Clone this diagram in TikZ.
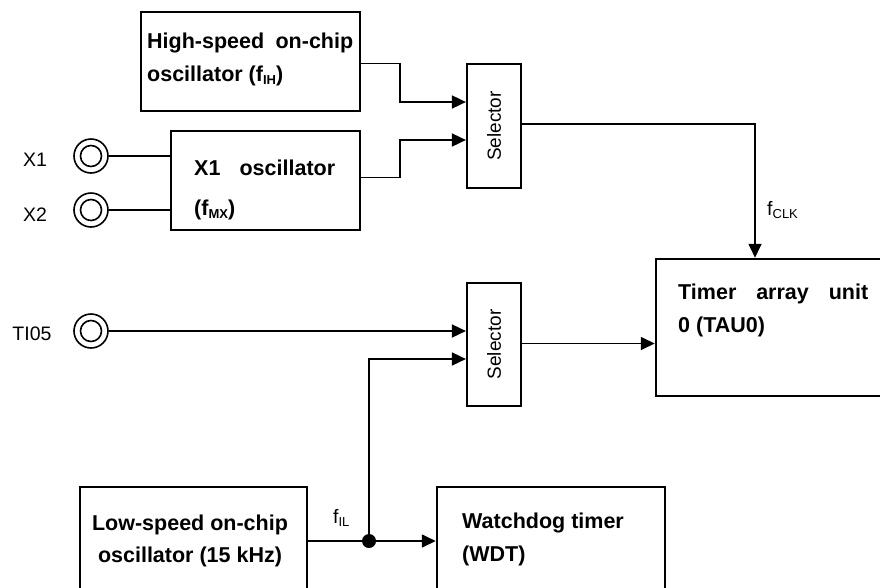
\documentclass[tikz,border=0pt]{standalone}
\usepackage{fontspec}
\setmainfont{Liberation Sans}
\usetikzlibrary{arrows.meta}
\newcommand{\mysub}[1]{\raisebox{-0.25ex}{\fontsize{13}{13}\selectfont #1}}
\begin{document}
\begin{tikzpicture}[x=1pt,y=-1pt,
  box/.style={draw, line width=2.5pt, inner sep=0, rectangle},
  selbox/.style={draw, line width=2.2pt, inner sep=0, rectangle, minimum width=54pt},
  conn/.style={line width=1.7pt},
  arr/.style={conn, -{Triangle[length=14pt,width=13pt]}},
  pinout/.style={circle, draw, line width=1.6pt, minimum size=34pt, inner sep=0},
  dotnode/.style={circle, fill, minimum size=14pt, inner sep=0},
  btxt/.style={font=\fontsize{21.5}{26}\selectfont\bfseries, inner sep=0},
  ltxt/.style={font=\fontsize{19.5}{23}\selectfont, inner sep=0},
  seltxt/.style={font=\fontsize{19}{22}\selectfont, inner sep=0, rotate=90},
]
\useasboundingbox (0,0) rectangle (880,587);

% boxes
\node[box, minimum width=219pt, minimum height=99pt] (hs) at (250.5,61.5) {};
\node[box, minimum width=189pt, minimum height=99pt] (x1) at (265.5,180.5) {};
\node[selbox, minimum height=124pt] (sel1) at (494,126) {};
\node[selbox, minimum height=123pt] (sel2) at (494,344.5) {};
\node[box, minimum width=226pt, minimum height=137pt] (tau) at (769,327.5) {};
\node[box, minimum width=227pt, minimum height=133pt] (ls) at (193.5,553.5) {};
\node[box, minimum width=228pt, minimum height=133pt] (wdt) at (551,553.5) {};

% box texts
\node[btxt, anchor=mid west] (hst1) at (147,46) {\makebox[206pt][s]{High-speed on-chip}};
\node[btxt, anchor=mid west] (hst2) at (147,79) {oscillator (f\mysub{IH})};
\node[btxt, anchor=mid west] (x1t1) at (194,173) {\makebox[141pt][s]{X1 oscillator}};
\node[btxt, anchor=mid west] (x1t2) at (194,213) {(f\mysub{MX})};
\node[btxt, anchor=mid west] (taut1) at (678,297) {\makebox[190pt][s]{Timer array unit}};
\node[btxt, anchor=mid west] (taut2) at (678,330) {0 (TAU0)};
\node[btxt, anchor=mid] (lst1) at (190,528) {Low-speed on-chip};
\node[btxt, anchor=mid] (lst2) at (190,560) {oscillator (15 kHz)};
\node[btxt, anchor=mid west] (wdtt1) at (462,526) {Watchdog timer};
\node[btxt, anchor=mid west] (wdtt2) at (462,559) {(WDT)};
\node[seltxt] (sel1t) at (sel1) {Selector};
\node[seltxt] (sel2t) at (sel2) {Selector};

% pins
\node[pinout] (px1) at (91,156) {};
\node[pinout] (px2) at (91,210) {};
\node[pinout] (pti) at (91,331) {};
\draw[line width=1.6pt] (px1.center) circle[radius=10.5pt];
\draw[line width=1.6pt] (px2.center) circle[radius=10.5pt];
\draw[line width=1.6pt] (pti.center) circle[radius=10.5pt];
\node[ltxt] (lx1) at (35,160) {X1};
\node[ltxt] (lx2) at (35,215) {X2};
\node[ltxt] (lti) at (32,334) {TI05};

% connectors
\draw[conn] (px1.east) -- (px1.east -| x1.west);
\draw[conn] (px2.east) -- (px2.east -| x1.west);
\draw[arr] ([yshift=-2pt]hs.east) -- ++(39,0) |- ([yshift=24pt]sel1.west);
\draw[arr] ([yshift=3pt]x1.east) -- ++(39,0) |- ([yshift=-14pt]sel1.west);
\draw[arr] ([yshift=2pt]sel1.east) -| ([xshift=-14pt]tau.north);
\node[ltxt, anchor=mid west] (fclk) at (767,213) {f\mysub{CLK}};

\draw[arr] (pti.east) -- (pti.east -| sel2.west);
\node[dotnode] (dot) at (369,541) {};
\draw[conn] (ls.east |- dot) -- (dot.center);
\draw[arr] (dot.center) -- (dot -| wdt.west);
\draw[arr] (dot.center) |- ([yshift=-14.5pt]sel2.west);
\draw[arr] ([yshift=1pt]sel2.east) -- ([yshift=1pt]sel2.east -| tau.west);
\node[ltxt, anchor=mid west] (fil) at (333,521) {f\mysub{IL}};
\end{tikzpicture}
\end{document}
